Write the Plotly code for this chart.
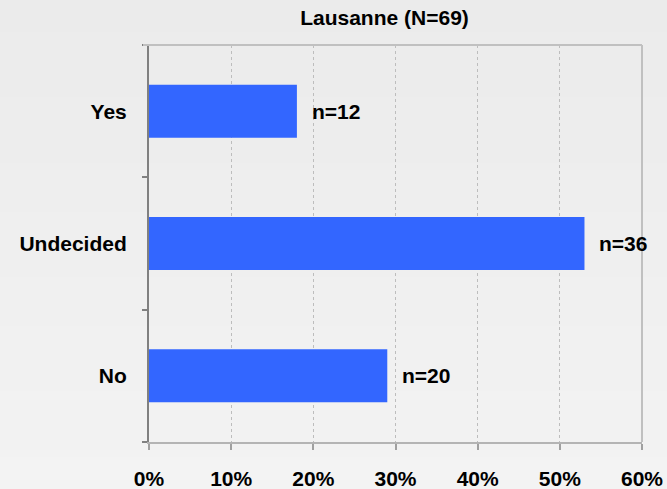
import plotly.graph_objects as go

categories = ["Yes", "Undecided", "No"]
percent_values = [18, 53, 29]
counts = [12, 36, 20]
tick_vals = [0, 10, 20, 30, 40, 50, 60]
tick_text = ["0%", "10%", "20%", "30%", "40%", "50%", "60%"]
title_text = "Lausanne (N=69)"

font_family = "Liberation Sans, Arial, sans-serif"
FS = 21

fig = go.Figure()
fig.add_trace(go.Bar(
    y=categories,
    x=percent_values,
    orientation="h",
    marker=dict(color="#3366ff", line=dict(width=0)),
    hoverinfo="skip",
))

annotations = []
for c, v, n in zip(categories, percent_values, counts):
    annotations.append(dict(
        x=v, y=c, xref="x", yref="y", text=f"n={n}",
        showarrow=False, xanchor="left", xshift=13,
        font=dict(family=font_family, size=FS, color="#000000", weight="bold"),
    ))

W, H = 667, 489
L, T, R, B = 149, 45, 25, 47
PW, PH = W - L - R, H - T - B

# subtle vertical background gradient (top darker, bottom lighter)
shapes = []
NB = 30
y_lo = -B / PH
y_hi = 1 + T / PH
for i in range(NB):
    f = i / (NB - 1)
    g = int(round(0xF3 - (0xF3 - 0xEB) * f))
    col = f"rgb({g},{g},{g})"
    y0 = y_lo + (y_hi - y_lo) * i / NB
    y1 = y_lo + (y_hi - y_lo) * (i + 1) / NB
    shapes.append(dict(type="rect", xref="paper", yref="paper",
                       x0=-L / PW - 0.01, x1=1 + R / PW + 0.01, y0=y0, y1=y1 + 0.002,
                       fillcolor=col, line=dict(width=0), layer="below"))
shapes += [
    dict(type="line", xref="paper", yref="paper", x0=-6 / PW, x1=1, y0=1, y1=1,
         line=dict(color="#c0c0c0", width=2)),
    dict(type="line", xref="paper", yref="paper", x0=1, x1=1, y0=0, y1=1,
         line=dict(color="#c0c0c0", width=2)),
]

fig.update_layout(
    width=W, height=H,
    margin=dict(l=L, r=R, t=T, b=B, autoexpand=False),
    paper_bgcolor="#efefef",
    plot_bgcolor="rgba(0,0,0,0)",
    bargap=0.6,
    showlegend=False,
    title=dict(text=title_text, x=384.5 / W, xanchor="center",
               y=1 - 18 / H, yanchor="middle",
               font=dict(family=font_family, size=FS, color="#000000", weight="bold")),
    annotations=annotations,
    xaxis=dict(
        range=[0, 60], tickvals=tick_vals, ticktext=tick_text,
        showgrid=True, gridcolor="#bdbdbd", griddash="dot", gridwidth=1,
        zeroline=False, automargin=False,
        showline=True, linecolor="#b4b4b4", linewidth=2,
        ticks="outside", ticklen=6, tickcolor="#a0a0a0", tickwidth=2,
        ticklabelstandoff=11, ticklabeloverflow="allow",
        tickfont=dict(family=font_family, size=FS, color="#000000", weight="bold"),
        fixedrange=True,
    ),
    yaxis=dict(
        categoryorder="array", categoryarray=categories[::-1],
        showgrid=False, zeroline=False, automargin=False,
        showline=True, linecolor="#808080", linewidth=2,
        ticks="outside", tickson="boundaries", ticklen=5,
        tickcolor="#808080", tickwidth=2,
        ticklabelstandoff=16,
        tickfont=dict(family=font_family, size=FS, color="#000000", weight="bold"),
        fixedrange=True,
    ),
    shapes=shapes,
)

fig.write_html(
    "out.html",
    config={"displayModeBar": False, "staticPlot": True},
    post_script="document.documentElement.style.margin='0';"
                "document.body.style.margin='0';"
                "document.body.style.overflow='hidden';",
)
